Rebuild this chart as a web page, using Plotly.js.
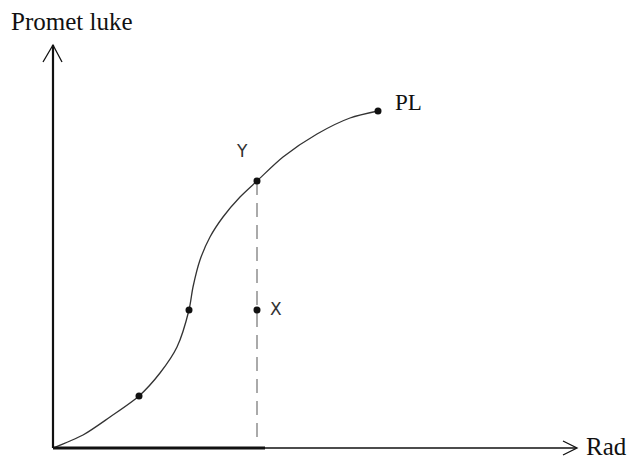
<!DOCTYPE html>
<html>
<head>
<meta charset="utf-8">
<script src="https://cdn.plot.ly/plotly-3.0.1.min.js"></script>
<style>
  html, body { margin: 0; padding: 0; background: #fff; }
  #chart { width: 630px; height: 460px; }
</style>
</head>
<body>
<div id="chart"></div>
<script>
// --- Curve data ---
const curveX = [0, 30, 57, 86, 107, 124, 136, 140, 147, 157, 170, 187, 204, 230, 264, 297, 325];
const curveY = [0, 13, 31, 52, 75, 101, 138, 161, 188, 211, 231, 251, 267, 291, 314, 330, 337];

// Marked points on the curve
const dotX = [86, 136, 204, 325];
const dotY = [52, 138, 267, 337];

// Point X below point Y
const pointX = [204];
const pointY = [138];

const axisTitleY = 'Promet luke';
const axisTitleX = 'Rad';
const pointLabels = ['PL', 'Y', 'X'];

// Axis lengths (data units = pixels)
const xEnd = 524;
const yEnd = 403;

const serif = 'Liberation Serif, Times New Roman, serif';
const sans = 'DejaVu Sans, Arial, sans-serif';

const curve = {
    x: curveX, y: curveY, type: 'scatter', mode: 'lines',
    line: { color: '#333', width: 1.3, shape: 'spline', smoothing: 0.8 },
    hoverinfo: 'skip'
};
const dots = {
    x: dotX, y: dotY, type: 'scatter', mode: 'markers',
    marker: { color: '#111', size: 7 }
};
const xDot = {
    x: pointX, y: pointY, type: 'scatter', mode: 'markers',
    marker: { color: '#111', size: 7 }
};

const shapes = [
    // dashed drop line from Y to the axis
    { type: 'line', x0: dotX[2], x1: dotX[2], y0: dotY[2], y1: 7,
      line: { color: '#aaa', width: 2, dash: '14px,8px' }, layer: 'below' },
    // vertical axis
    { type: 'line', x0: 0, x1: 0, y0: 0, y1: yEnd, line: { color: '#111', width: 2.2 } },
    // horizontal axis, heavy part then thin part
    { type: 'line', x0: 0, x1: 212, y0: 0, y1: 0, line: { color: '#111', width: 3 } },
    { type: 'line', x0: 212, x1: xEnd - 1, y0: 0, y1: 0, line: { color: '#111', width: 1.5 } },
    // arrow heads (open chevrons)
    { type: 'path', path: `M -10,${yEnd - 17} L 0,${yEnd} L 9,${yEnd - 17}`,
      line: { color: '#111', width: 1.3 } },
    { type: 'path', path: `M ${xEnd - 14},7 L ${xEnd},0 L ${xEnd - 14},-7`,
      line: { color: '#111', width: 1.3 } }
];

const annotations = [
    { x: 19, y: yEnd + 24, text: axisTitleY, showarrow: false,
      font: { family: serif, size: 25, color: '#111' } },
    { x: xEnd + 29, y: 2, text: axisTitleX, showarrow: false,
      font: { family: serif, size: 25, color: '#111' } },
    { x: dotX[3], y: dotY[3], text: pointLabels[0], showarrow: false,
      xshift: 30, yshift: 9, font: { family: serif, size: 23, color: '#111' } },
    { x: dotX[2], y: dotY[2], text: pointLabels[1], showarrow: false,
      xshift: -15, yshift: 30, font: { family: sans, size: 17, color: '#333' } },
    { x: pointX[0], y: pointY[0], text: pointLabels[2], showarrow: false,
      xshift: 19, yshift: 1, font: { family: sans, size: 17, color: '#333' } }
];

const layout = {
    width: 630, height: 460,
    margin: { l: 5, r: 0, t: 3, b: 2, pad: 0 },
    paper_bgcolor: '#fff', plot_bgcolor: '#fff',
    showlegend: false,
    xaxis: { range: [-48, 577], visible: false, fixedrange: true },
    yaxis: { range: [-10, 445], visible: false, fixedrange: true },
    shapes: shapes,
    annotations: annotations
};

Plotly.newPlot('chart', [curve, dots, xDot], layout, { displayModeBar: false, staticPlot: true });
</script>
</body>
</html>
